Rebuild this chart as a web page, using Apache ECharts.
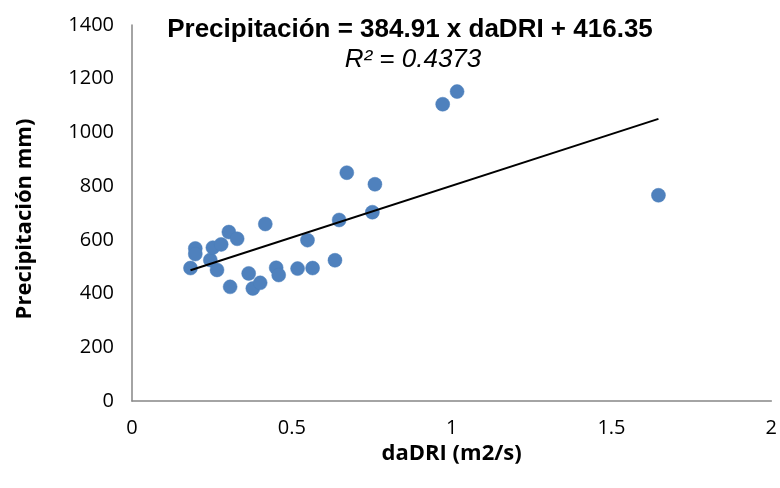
<!DOCTYPE html>
<html>
<head>
<meta charset="utf-8">
<script src="https://cdn.jsdelivr.net/npm/echarts@6/dist/echarts.min.js"></script>
<style>
  html, body { margin: 0; padding: 0; background: #fff; }
  #chart { width: 780px; height: 488px; }
</style>
</head>
<body>
<div id="chart"></div>
<script>
// daDRI (m2/s) per station
const daDRI = [
  0.183, 0.198, 0.198, 0.245, 0.253, 0.279, 0.266, 0.303, 0.329, 0.417,
  0.307, 0.365, 0.378, 0.401, 0.451, 0.459, 0.518, 0.549, 0.565, 0.635,
  0.648, 0.672, 0.760, 0.752, 0.972, 1.017, 1.647
];
// Precipitation (mm) per station
const precip = [
  495, 568, 547, 525, 571, 583, 488, 629, 604, 659,
  425, 475, 419, 440, 496, 469, 493, 599, 495, 524,
  674, 850, 807, 703, 1105, 1152, 766
];
// Linear fit coefficients
const slope = 384.91;
const intercept = 416.35;
const rSquared = 0.4373;

const xTicks = [0, 0.5, 1, 1.5, 2];
const yTicks = [0, 200, 400, 600, 800, 1000, 1200, 1400];

const points = daDRI.map((x, i) => [x, precip[i]]);
const xMin = Math.min(...daDRI);
const xMax = Math.max(...daDRI);
const fitLine = [[xMin, slope * xMin + intercept], [xMax, slope * xMax + intercept]];

const chart = echarts.init(document.getElementById('chart'), null, { renderer: 'canvas' });
const labelFont = '"Open Sans", sans-serif';

chart.setOption({
  animation: false,
  backgroundColor: '#ffffff',
  grid: { left: 132, right: 6, top: 25, bottom: 87, containLabel: false },
  xAxis: {
    type: 'value',
    min: xTicks[0],
    max: xTicks[xTicks.length - 1],
    interval: 0.5,
    splitLine: { show: false },
    axisTick: { show: false },
    axisLine: { lineStyle: { color: '#868686', width: 1.5 } },
    axisLabel: {
      margin: 17, color: '#000', fontSize: 20, fontFamily: labelFont,
      formatter: v => String(v)
    },
    name: 'daDRI (m2/s)',
    nameLocation: 'middle',
    nameGap: 35,
    nameTextStyle: { color: '#000', fontSize: 22, fontWeight: 'bold', fontFamily: labelFont }
  },
  yAxis: {
    type: 'value',
    min: yTicks[0],
    max: yTicks[yTicks.length - 1],
    interval: 200,
    splitLine: { show: false },
    axisTick: { show: false },
    axisLine: { show: true, lineStyle: { color: '#868686', width: 1.5 } },
    axisLabel: {
      margin: 18, color: '#000', fontSize: 20, fontFamily: labelFont,
      formatter: v => String(v)
    },
    name: 'Precipitación mm)',
    nameLocation: 'middle',
    nameGap: 96,
    nameTextStyle: {
      color: '#000', fontSize: 22, fontWeight: 'bold', fontFamily: labelFont,
      padding: [0, 12, 0, 0]
    }
  },
  series: [
    {
      type: 'line',
      data: fitLine,
      symbol: 'none',
      lineStyle: { color: '#000', width: 2 },
      z: 3
    },
    {
      type: 'scatter',
      data: points,
      symbol: 'circle',
      symbolSize: 14,
      itemStyle: { color: '#4F81BD', opacity: 1, borderColor: '#4A7EBB', borderWidth: 0.5 },
      z: 2
    }
  ],
  graphic: [
    {
      type: 'text',
      x: 410, y: 30,
      style: {
        text: 'Precipitación = ' + slope + ' x daDRI + ' + intercept,
        font: 'bold 26px "Liberation Sans", Arial, sans-serif',
        fill: '#000', align: 'center', verticalAlign: 'middle'
      }
    },
    {
      type: 'text',
      x: 413, y: 60,
      style: {
        text: 'R² = ' + rSquared,
        font: 'italic 26px "Liberation Sans", Arial, sans-serif',
        fill: '#000', align: 'center', verticalAlign: 'middle'
      }
    }
  ]
});
</script>
</body>
</html>
